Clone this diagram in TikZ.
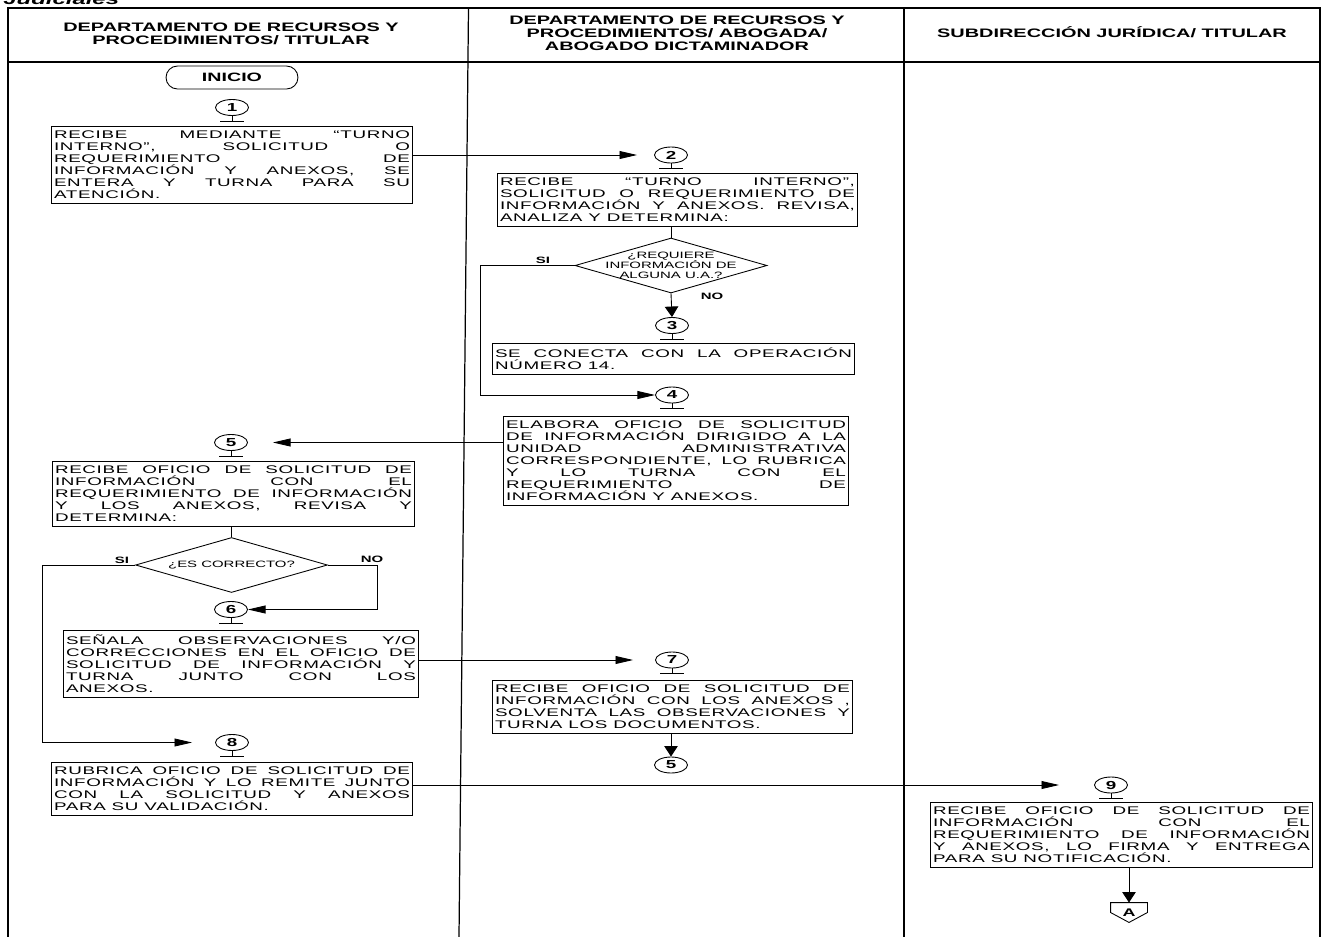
\documentclass[tikz,border=0pt]{standalone}
\usepackage{fontspec}
\setmainfont[FakeStretch=1.62]{Liberation Sans}
\newfontfamily\stepfont[FakeStretch=1.7,LetterSpace=6]{Liberation Sans}
\usetikzlibrary{arrows.meta,positioning,shapes.geometric}

\begin{document}
\begin{tikzpicture}[x=0.02cm,y=-0.02cm,line width=0.5pt,
hdr/.style={font=\bfseries\fontsize{7}{7.4}\selectfont,align=center},
stepbox/.style={draw,line width=0.6pt,anchor=north,align=justify,inner xsep=0.06cm,inner ysep=0.09cm,font=\stepfont\fontsize{6.3}{6.85}\selectfont},
num/.style={draw,ellipse,minimum width=0.66cm,minimum height=0.32cm,inner sep=0pt,font=\bfseries\fontsize{6.6}{6.6}\selectfont},
term/.style={draw,rounded corners=0.23cm,minimum width=2.64cm,minimum height=0.46cm,font=\bfseries\fontsize{6.9}{6.9}\selectfont},
decide/.style={draw,diamond,minimum width=3.84cm,minimum height=1.1cm,inner sep=0pt},
qtext/.style={align=center,font=\fontsize{5.25}{5.6}\selectfont},
tag/.style={font=\bfseries\fontsize{5.25}{5.25}\selectfont,inner sep=0pt},
hflow/.style={-{Triangle[length=10pt,width=4.5pt]}},
vflow/.style={-{Triangle[length=6pt,width=7.7pt]}}]
\useasboundingbox (0,0) rectangle (1323,937);
% lanes
\draw[line width=0.7pt] (8,937) -- (8,8) -- (1320,8) -- (1320,937);
\draw[line width=0.7pt] (8,62) -- (1320,62);
\draw[line width=0.7pt] (468.5,8) -- (459,937);
\draw[line width=0.7pt] (904,8) -- (904,937);
\node[font=\bfseries\itshape\fontsize{8.4}{8.4}\selectfont,anchor=base west,inner sep=0pt] (title) at (3,4.5) {Judiciales};
\node[hdr] (lane1) at (231,34) {DEPARTAMENTO DE RECURSOS Y\\PROCEDIMIENTOS/ TITULAR};
\node[hdr] (lane2) at (677,33) {DEPARTAMENTO DE RECURSOS Y\\PROCEDIMIENTOS/ ABOGADA/\\ABOGADO DICTAMINADOR};
\node[hdr] (lane3) at (1112,32) {SUBDIRECCIÓN JURÍDICA/ TITULAR};
% steps
\node[term] (start) at (232,77.5) {INICIO};
\node[num] (c1) at (232,107.5) {1};
\node[stepbox,text width=7.12cm] (box1) at (232,126) {RECIBE MEDIANTE “TURNO\linebreak INTERNO”, SOLICITUD O\linebreak REQUERIMIENTO DE\linebreak INFORMACIÓN Y ANEXOS, SE\linebreak ENTERA Y TURNA PARA SU\linebreak ATENCIÓN.};
\node[num] (c2) at (671,155) {2};
\node[stepbox,text width=7.10cm] (box2) at (677.5,173) {RECIBE “TURNO INTERNO”,\linebreak SOLICITUD O REQUERIMIENTO DE\linebreak INFORMACIÓN Y ANEXOS. REVISA,\linebreak ANALIZA Y DETERMINA:};
\node[decide,label={[qtext]center:{¿REQUIERE\\INFORMACIÓN DE\\ALGUNA U.A.?}}] (q1) at (671,265.5) {};
\node[tag] (si1) at (543,260) {SI};
\node[tag] (no1) at (712,296) {NO};
\node[num] (c3) at (672,325.5) {3};
\node[stepbox,text width=7.14cm] (box3) at (673.5,343) {SE CONECTA CON LA OPERACIÓN\linebreak NÚMERO 14.};
\node[num] (c4) at (672,395) {4};
\node[stepbox,text width=6.80cm] (box4) at (676,416) {ELABORA OFICIO DE SOLICITUD\linebreak DE INFORMACIÓN DIRIGIDO A LA\linebreak UNIDAD ADMINISTRATIVA\linebreak CORRESPONDIENTE, LO RUBRICA\linebreak Y LO TURNA CON EL\linebreak REQUERIMIENTO DE\linebreak INFORMACIÓN Y ANEXOS.};
\node[num] (c5) at (231,442.5) {5};
\node[stepbox,text width=7.14cm] (box5) at (233.5,461) {RECIBE OFICIO DE SOLICITUD DE\linebreak INFORMACIÓN CON EL\linebreak REQUERIMIENTO DE INFORMACIÓN\linebreak Y LOS ANEXOS, REVISA Y\linebreak DETERMINA:};
\node[decide,label={[qtext]center:{¿ES CORRECTO?}}] (q2) at (231.5,565) {};
\node[tag] (si2) at (122,560) {SI};
\node[tag] (no2) at (372,559) {NO};
\node[num] (c6) at (231,609.5) {6};
\node[stepbox,text width=7.0cm] (box6) at (241,630) {SEÑALA OBSERVACIONES Y/O\linebreak CORRECCIONES EN EL OFICIO DE\linebreak SOLICITUD DE INFORMACIÓN Y\linebreak TURNA JUNTO CON LOS\linebreak ANEXOS.};
\node[num] (c7) at (672,660) {7};
\node[stepbox,text width=7.10cm] (box7) at (672.5,680) {RECIBE OFICIO DE SOLICITUD DE\linebreak INFORMACIÓN CON LOS ANEXOS ,\linebreak SOLVENTA LAS OBSERVACIONES Y\linebreak TURNA LOS DOCUMENTOS.};
\node[num] (c5r) at (671,765) {5};
\node[num] (c8) at (232,742.5) {8};
\node[stepbox,text width=7.12cm] (box8) at (232,762) {RUBRICA OFICIO DE SOLICITUD DE\linebreak INFORMACIÓN Y LO REMITE JUNTO\linebreak CON LA SOLICITUD Y ANEXOS\linebreak PARA SU VALIDACIÓN.};
\node[num] (c9) at (1111,785) {9};
\node[stepbox,text width=7.54cm] (box9) at (1121.5,802) {RECIBE OFICIO DE SOLICITUD DE\linebreak INFORMACIÓN CON EL\linebreak REQUERIMIENTO DE INFORMACIÓN\linebreak Y ANEXOS, LO FIRMA Y ENTREGA\linebreak PARA SU NOTIFICACIÓN.};
\node[font=\bfseries\fontsize{6.3}{6.3}\selectfont,minimum width=0.72cm,minimum height=0.38cm,inner sep=0pt] (offA) at (1129,912.5) {A};
\draw (offA.north west) -- (offA.north east) -- (offA.east) -- (offA.south) -- (offA.west) -- cycle;
% connector stubs
\foreach \n in {c1,c2,c3,c4,c5,c6,c7,c8,c9}
  \draw (\n.south) -- ++(0,5) ++(-12,0) -- ++(24,0);
% flow
\draw[hflow,shorten >=0.34cm] (c2 -| box1.east) -- (c2.west);
\draw (box2.south -| q1.north) -- (q1.north);
\draw[hflow] (q1.west) -- ++(-94,0) |- (c4.west);
\draw[vflow] (q1.south) -- (c3.north);
\draw[hflow,shorten >=0.5cm] (c5 -| box4.west) -- (c5.east);
\draw (box5.south -| q2.north) -- (q2.north);
\draw[hflow,shorten >=0.46cm] (q2.west) -- ++(-93,0) |- (c8.west);
\draw[hflow] (q2.east) -- ++(50,0) |- (c6.east);
\draw[hflow,shorten >=0.44cm] (c7 -| box6.east) -- (c7.west);
\draw[vflow] (box7.south -| c5r.north) -- (c5r.north);
\draw[hflow,shorten >=0.7cm] (c9 -| box8.east) -- (c9.west);
\draw[vflow] (box9.south -| offA.north) -- (offA.north);
\end{tikzpicture}
\end{document}
